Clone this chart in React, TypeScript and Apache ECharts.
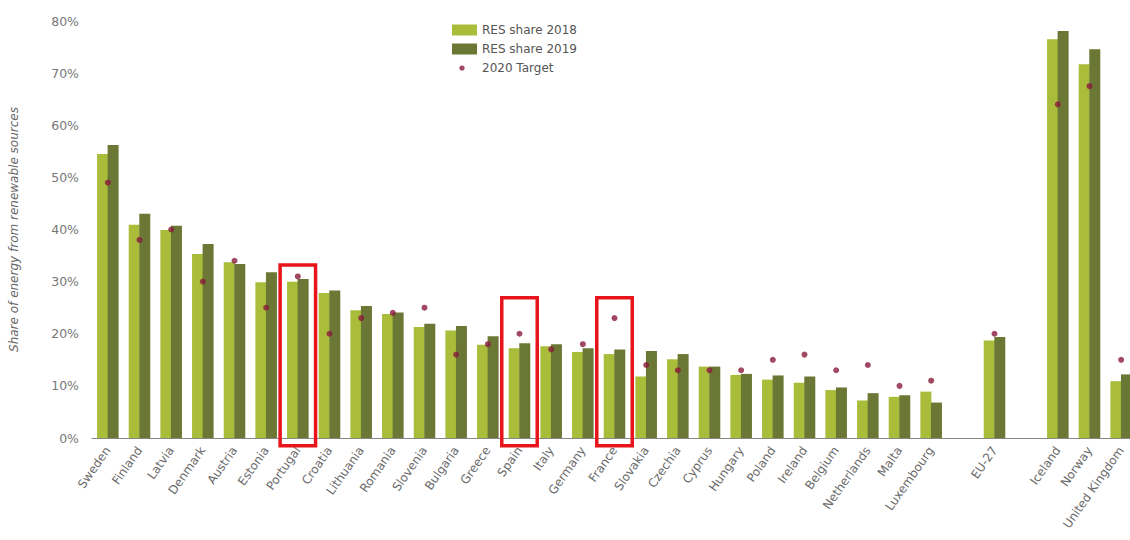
import React, { useEffect, useRef } from 'react';
import * as echarts from 'echarts';

const categories = [
  'Sweden', 'Finland', 'Latvia', 'Denmark', 'Austria', 'Estonia', 'Portugal', 'Croatia',
  'Lithuania', 'Romania', 'Slovenia', 'Bulgaria', 'Greece', 'Spain', 'Italy', 'Germany',
  'France', 'Slovakia', 'Czechia', 'Cyprus', 'Hungary', 'Poland', 'Ireland', 'Belgium',
  'Netherlands', 'Malta', 'Luxembourg', '', 'EU-27', ' ', 'Iceland', 'Norway', 'United Kingdom',
];

const res2018 = [
  54.5, 40.9, 39.9, 35.3, 33.7, 29.9, 30.0, 27.8,
  24.5, 23.8, 21.3, 20.6, 17.9, 17.2, 17.6, 16.5,
  16.1, 11.8, 15.1, 13.7, 12.1, 11.2, 10.6, 9.2,
  7.2, 7.9, 8.9, null, 18.7, null, 76.5, 71.7, 10.9,
];

const res2019 = [
  56.2, 43.0, 40.7, 37.2, 33.4, 31.8, 30.5, 28.3,
  25.3, 24.1, 21.9, 21.5, 19.5, 18.2, 18.0, 17.2,
  17.0, 16.7, 16.1, 13.7, 12.3, 12.0, 11.8, 9.7,
  8.6, 8.2, 6.8, null, 19.4, null, 78.1, 74.6, 12.2,
];

const target2020 = [
  49, 38, 40, 30, 34, 25, 31, 20,
  23, 24, 25, 16, 18, 20, 17, 18,
  23, 14, 13, 13, 13, 15, 16, 13,
  14, 10, 11, null, 20, null, 64, 67.5, 15,
];

const highlighted = ['Portugal', 'Spain', 'France'];
const highlightTop = [33.2, 26.9, 26.9];
const highlightBottom = -1.5;

const C2018 = '#a9bd3a';
const C2019 = '#6b7835';
const CTARGET = '#8a1a3c';

const dotIcon =
  'image://data:image/svg+xml;utf8,' +
  encodeURIComponent(
    '<svg xmlns="http://www.w3.org/2000/svg" width="25" height="11" viewBox="0 0 25 11"><circle cx="10" cy="5.5" r="2.6" fill="' +
      CTARGET +
      '"/></svg>'
  );

export default function App() {
  const ref = useRef<HTMLDivElement>(null);

  useEffect(() => {
    const chart = echarts.init(ref.current!, null, { renderer: 'svg' });
    const font = 'DejaVu Sans';
    chart.setOption({
      animation: false,
      backgroundColor: '#ffffff',
      textStyle: { fontFamily: font },
      grid: { left: 92, right: 0, top: 21, bottom: 102, containLabel: false },
      legend: {
        orient: 'vertical',
        left: 447,
        top: 19,
        itemWidth: 25,
        itemHeight: 11,
        itemGap: 7,
        textStyle: { fontSize: 12, color: '#555', fontFamily: font },
        data: [
          { name: 'RES share 2018', icon: 'rect' },
          { name: 'RES share 2019', icon: 'rect' },
          { name: '2020 Target', icon: dotIcon },
        ],
      },
      xAxis: {
        type: 'category',
        data: categories,
        axisLine: { show: true, lineStyle: { color: '#888', width: 1 } },
        axisTick: { show: false },
        axisLabel: {
          interval: 0,
          rotate: 55,
          fontSize: 12,
          color: '#6a6a6a',
          fontFamily: font,
          margin: 10,
        },
      },
      yAxis: {
        type: 'value',
        min: 0,
        max: 80,
        interval: 10,
        name: 'Share of energy from renewable sources',
        nameLocation: 'middle',
        nameGap: 72,
        nameTextStyle: { fontStyle: 'italic', fontSize: 12, color: '#666', fontFamily: font },
        axisLine: { show: false },
        axisTick: { show: false },
        splitLine: { show: false },
        axisLabel: { formatter: '{value}%', fontSize: 12.5, color: '#777', fontFamily: font, margin: 13 },
      },
      series: [
        {
          name: 'RES share 2018',
          type: 'bar',
          data: res2018,
          barWidth: 11,
          barGap: '-4%',
          itemStyle: { color: C2018 },
        },
        {
          name: 'RES share 2019',
          type: 'bar',
          data: res2019,
          barWidth: 11,
          itemStyle: { color: C2019 },
        },
        {
          name: '2020 Target',
          type: 'scatter',
          data: target2020,
          symbol: 'circle',
          symbolSize: 6,
          itemStyle: { color: CTARGET },
          z: 5,
        },
      ],
    });

    const boxes = highlighted.map((c, i) => {
      const idx = categories.indexOf(c);
      const p0 = chart.convertToPixel({ xAxisIndex: 0, yAxisIndex: 0 }, [idx, highlightTop[i]]) as number[];
      const p1 = chart.convertToPixel({ xAxisIndex: 0, yAxisIndex: 0 }, [idx + 1, highlightBottom]) as number[];
      const band = p1[0] - p0[0];
      const w = band * 1.12;
      return {
        type: 'rect',
        z: 100,
        shape: { x: p0[0] - w / 2, y: p0[1], width: w, height: p1[1] - p0[1] },
        style: { fill: 'none', stroke: '#e8141b', lineWidth: 3.5 },
      };
    });
    chart.setOption({ graphic: boxes });

    return () => chart.dispose();
  }, []);

  return (
    <div style={{ position: 'fixed', left: 0, top: 0, width: 1130, height: 540, overflow: 'hidden', background: '#fff' }}>
      <div ref={ref} style={{ position: 'absolute', left: 0, top: 0, width: 1137, height: 540 }} />
    </div>
  );
}
